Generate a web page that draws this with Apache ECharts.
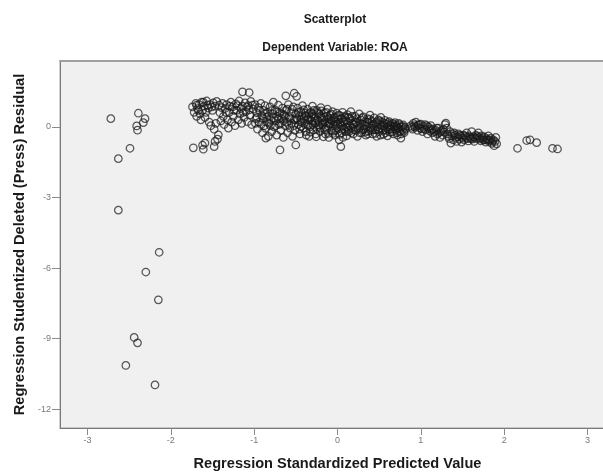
<!DOCTYPE html>
<html>
<head>
<meta charset="utf-8">
<script src="https://cdn.jsdelivr.net/npm/echarts@6/dist/echarts.min.js"></script>
<style>html,body{margin:0;padding:0;background:#fff}#c{width:603px;height:472px}</style>
</head>
<body>
<div id="c"></div>
<script>
const xTicks = [-3, -2, -1, 0, 1, 2, 3];
const yTicks = [0, -3, -6, -9, -12];

const leftOutliers = [[-2.72,0.35],[-2.39,0.58],[-2.31,0.35],[-2.33,0.18],[-2.41,0.04],[-2.40,-0.14],[-2.49,-0.91],[-2.63,-1.35],[-2.63,-3.54],[-2.14,-5.33],[-2.30,-6.17],[-2.15,-7.35],[-2.44,-8.95],[-2.40,-9.18],[-2.54,-10.14],[-2.19,-10.97]];

const cloudA = [[-1.74,0.85],[-1.72,0.62],[-1.70,1.00],[-1.69,0.45],[-1.68,0.78],[-1.66,0.95],[-1.65,0.55],[-1.64,0.30],[-1.63,1.05],[-1.62,0.70],[-1.60,0.88],[-1.59,0.40],[-1.58,0.62],[-1.57,1.10],[-1.55,0.80],[-1.54,0.20],[-1.53,0.95],[-1.52,0.05],[-1.50,0.70],[-1.49,1.02],[-1.48,-0.10],[-1.47,0.88],[-1.46,0.15],[-1.45,1.08],[-1.73,-0.89],[-1.61,-0.95],[-1.59,-0.69],[-1.48,-0.84],[-1.47,-0.62],[-1.43,-0.34],[-1.62,-0.78],[-1.44,-0.52]];

const cloudB = [[-1.42,0.92],[-1.41,0.60],[-1.40,0.25],[-1.38,1.00],[-1.37,0.45],[-1.36,0.10],[-1.35,0.78],[-1.33,0.95],[-1.32,0.30],[-1.31,-0.05],[-1.30,0.62],[-1.28,1.05],[-1.27,0.20],[-1.26,0.85],[-1.25,0.45],[-1.23,0.05],[-1.22,0.98],[-1.21,0.70],[-1.19,0.30],[-1.18,1.10],[-1.17,0.55],[-1.15,0.15],[-1.14,0.88],[-1.12,0.40],[-1.11,1.02],[-1.10,0.65],[-1.08,0.22],[-1.07,0.90],[-1.05,0.50],[-1.04,1.08],[-1.03,0.10],[-1.01,0.75],[-1.14,1.49],[-1.06,1.46]];

const cloudB2 = [[-1.69,0.92],[-1.67,0.70],[-1.61,1.05],[-1.56,0.92],[-1.51,0.85],[-1.39,0.82],[-1.34,0.62],[-1.29,0.88],[-1.24,0.70],[-1.20,0.90],[-1.16,0.78],[-1.13,0.62],[-1.09,0.85],[-1.06,0.72],[-1.02,0.92]];

const cloudC = [[-0.99,0.95],[-0.98,0.35],[-0.97,0.60],[-0.96,-0.10],[-0.95,0.82],[-0.94,0.20],[-0.92,1.00],[-0.91,0.48],[-0.90,-0.25],[-0.89,0.70],[-0.88,0.05],[-0.87,0.90],[-0.86,-0.06],[-0.85,0.40],[-0.84,0.62],[-0.83,-0.40],[-0.82,0.15],[-0.81,0.85],[-0.80,0.30],[-0.79,-0.20],[-0.78,0.55],[-0.77,1.05],[-0.76,0.00],[-0.75,0.72],[-0.74,0.25],[-0.73,-0.35],[-0.72,0.45],[-0.71,0.92],[-0.70,0.10],[-0.69,-0.98],[-0.69,0.60],[-0.68,-0.15],[-0.67,0.35],[-0.66,0.80],[-0.65,-0.45],[-0.64,0.50],[-0.63,0.05],[-0.62,1.32],[-0.62,0.70],[-0.61,0.20],[-0.60,-0.25],[-0.59,0.95],[-0.58,0.40],[-0.57,-0.05],[-0.56,0.62],[-0.55,0.15],[-0.54,-0.40],[-0.53,0.85],[-0.52,1.43],[-0.52,0.30],[-0.51,-0.15],[-0.50,0.55],[-0.50,-0.77],[-0.49,1.30],[-0.86,-0.48]];

const cloudC2 = [[-0.985,0.15],[-0.965,0.40],[-0.935,0.70],[-0.915,0.10],[-0.895,0.35],[-0.875,0.55],[-0.845,0.20],[-0.825,0.45],[-0.805,0.05],[-0.785,0.70],[-0.765,0.38],[-0.745,0.05],[-0.725,0.65],[-0.705,0.35],[-0.685,0.15],[-0.665,0.55],[-0.645,0.25],[-0.625,0.45],[-0.605,0.75],[-0.585,0.10],[-0.565,0.35],[-0.545,0.75],[-0.525,0.05],[-0.505,0.30]];

const cloudD = [[-0.48,0.80],[-0.47,0.10],[-0.46,0.45],[-0.45,-0.30],[-0.44,0.65],[-0.43,0.20],[-0.42,0.90],[-0.41,-0.05],[-0.40,0.35],[-0.39,0.58],[-0.38,-0.20],[-0.37,0.12],[-0.36,0.75],[-0.35,0.40],[-0.34,-0.40],[-0.33,0.00],[-0.32,0.62],[-0.31,0.25],[-0.30,0.88],[-0.29,-0.12],[-0.28,0.48],[-0.27,0.15],[-0.26,-0.30],[-0.25,0.70],[-0.24,0.30],[-0.23,0.02],[-0.22,0.55],[-0.21,-0.20],[-0.20,0.82],[-0.19,0.38],[-0.18,0.08],[-0.17,-0.42],[-0.16,0.60],[-0.15,0.22],[-0.14,-0.05],[-0.13,0.45],[-0.12,0.75],[-0.11,-0.28],[-0.10,0.12],[-0.09,0.50],[-0.08,0.30],[-0.07,-0.15],[-0.06,0.65],[-0.05,0.05],[-0.04,0.40],[-0.03,-0.35],[-0.02,0.20],[-0.01,0.58],[0.00,-0.05],[0.01,0.32],[0.02,-0.55],[0.03,0.48],[0.04,-0.84],[0.04,0.10],[0.05,-0.25],[0.06,0.62],[0.07,0.25],[0.08,-0.10],[0.09,0.40],[0.10,0.00],[0.11,-0.38],[0.12,0.52],[0.13,0.18],[0.14,-0.20],[0.15,0.35],[0.16,0.65],[0.17,-0.05],[0.18,0.28],[0.19,-0.30],[0.20,0.10],[-0.44,0.28],[-0.38,0.48],[-0.33,0.30],[-0.27,0.38],[-0.22,0.20],[-0.18,0.28],[-0.12,0.18],[-0.07,0.25],[-0.02,0.05],[0.03,0.15],[0.08,0.20],[-0.35,0.05],[-0.25,-0.08],[-0.15,-0.12],[-0.05,-0.18],[0.05,-0.10],[0.12,-0.02],[-0.30,0.55],[-0.20,0.45],[-0.10,0.35]];

const cloudD2 = [[-0.485,0.35],[-0.465,0.62],[-0.455,-0.10],[-0.435,0.02],[-0.425,0.48],[-0.405,0.72],[-0.395,0.15],[-0.375,-0.35],[-0.365,0.30],[-0.345,0.55],[-0.325,-0.22],[-0.315,0.42],[-0.295,0.10],[-0.285,0.70],[-0.265,0.25],[-0.255,-0.42],[-0.235,0.60],[-0.225,0.08],[-0.205,-0.05],[-0.195,0.68],[-0.175,0.15],[-0.165,0.42],[-0.145,-0.30],[-0.135,0.62],[-0.115,0.05],[-0.105,-0.45],[-0.085,0.15],[-0.075,0.55],[-0.055,-0.28],[-0.045,0.22],[-0.025,0.42],[-0.015,-0.15],[0.005,0.12],[0.015,0.50],[0.025,-0.32],[0.045,0.35],[0.055,0.02],[0.065,-0.45],[0.085,0.45],[0.095,-0.20],[0.105,0.25],[0.125,-0.15],[0.135,0.40],[0.145,0.05],[0.165,-0.25],[0.175,0.45],[0.185,0.12],[0.195,-0.12]];

const cloudE = [[0.21,0.45],[0.22,-0.15],[0.23,0.20],[0.24,-0.40],[0.25,0.05],[0.26,0.55],[0.27,-0.05],[0.28,0.30],[0.29,-0.25],[0.30,0.12],[0.31,0.42],[0.32,-0.10],[0.33,0.22],[0.34,-0.35],[0.35,0.02],[0.36,0.35],[0.37,-0.18],[0.38,0.15],[0.39,0.50],[0.40,-0.05],[0.41,0.25],[0.42,-0.30],[0.43,0.08],[0.44,0.38],[0.45,-0.12],[0.46,0.18],[0.47,-0.40],[0.48,0.00],[0.49,0.30],[0.50,-0.20],[0.51,0.10],[0.52,0.40],[0.53,-0.08],[0.54,0.20],[0.55,-0.32],[0.56,0.05],[0.57,0.28],[0.58,-0.15],[0.59,0.12],[0.60,-0.38],[0.61,0.00],[0.62,0.22],[0.63,-0.22],[0.64,0.08],[0.65,-0.10],[0.66,0.15],[0.67,-0.30],[0.68,0.02],[0.69,0.18],[0.70,-0.15],[0.71,0.05],[0.72,-0.35],[0.73,-0.05],[0.74,0.10],[0.75,-0.20],[0.76,-0.48],[0.77,0.00],[0.78,-0.12],[0.79,0.08],[0.80,-0.25],[0.81,-0.02]];

const cloudE2 = [[0.215,0.20],[0.235,0.35],[0.245,-0.05],[0.265,-0.25],[0.275,0.15],[0.295,0.38],[0.305,-0.12],[0.325,0.05],[0.335,-0.22],[0.355,0.20],[0.365,-0.30],[0.385,0.32],[0.395,-0.15],[0.415,0.05],[0.425,-0.12],[0.445,0.12],[0.455,-0.28],[0.475,0.22],[0.485,-0.12],[0.505,0.25],[0.515,-0.35],[0.535,0.05],[0.545,-0.15],[0.565,0.15],[0.575,-0.25],[0.595,-0.05],[0.605,0.18],[0.625,-0.10],[0.635,0.05],[0.655,-0.22],[0.675,0.10],[0.685,-0.08],[0.705,0.00],[0.715,-0.25],[0.735,0.15],[0.745,-0.10],[0.765,-0.30],[0.785,0.02],[0.795,-0.18],[0.815,-0.10]];

const cloudF = [[0.88,0.05],[0.90,-0.10],[0.91,0.15],[0.93,-0.02],[0.94,0.20],[0.96,-0.15],[0.97,0.08],[0.99,-0.05],[1.00,0.12],[1.02,-0.20],[1.03,0.02],[1.05,0.10],[1.06,-0.12],[1.08,-0.30],[1.09,0.00],[1.11,-0.18],[1.12,0.05],[1.14,-0.25],[1.15,-0.08],[1.17,-0.40],[1.18,-0.15],[1.20,-0.30],[1.21,-0.05],[1.23,-0.45],[1.24,-0.20],[1.26,-0.35],[1.27,-0.10],[1.29,0.10],[1.30,0.16],[1.31,-0.05],[1.32,-0.30],[1.34,-0.50],[1.35,-0.20],[1.36,-0.69],[1.37,-0.38],[1.39,-0.55],[1.40,-0.25],[1.42,-0.45],[1.43,-0.62],[1.45,-0.30],[1.46,-0.52],[1.48,-0.40],[1.49,-0.65],[1.51,-0.35],[1.52,-0.55],[1.54,-0.45],[1.55,-0.25],[1.57,-0.60],[1.58,-0.38],[1.60,-0.50],[1.61,-0.20],[1.63,-0.42],[1.64,-0.62],[1.66,-0.35],[1.67,-0.50],[1.69,-0.25],[1.70,-0.45],[1.72,-0.60],[1.73,-0.38],[1.75,-0.55],[1.76,-0.42],[1.78,-0.65],[1.79,-0.50],[1.81,-0.38],[1.82,-0.62],[1.84,-0.48],[1.85,-0.70],[1.87,-0.55],[1.88,-0.80],[1.89,-0.62],[1.90,-0.45],[1.91,-0.72]];

const cloudF2 = [[0.89,-0.02],[0.92,0.05],[0.95,0.02],[0.98,0.10],[1.01,-0.08],[1.04,-0.10],[1.07,0.05],[1.10,-0.08],[1.13,-0.12],[1.16,-0.20],[1.19,-0.05],[1.22,-0.25],[1.25,-0.15],[1.28,-0.22],[1.33,-0.40],[1.38,-0.30],[1.41,-0.35],[1.44,-0.42],[1.47,-0.35],[1.50,-0.48],[1.53,-0.38],[1.56,-0.50],[1.59,-0.45],[1.62,-0.52],[1.65,-0.45],[1.68,-0.40],[1.71,-0.52],[1.74,-0.48],[1.77,-0.55],[1.80,-0.55],[1.83,-0.55],[1.86,-0.62]];

const rightTail = [[2.16,-0.91],[2.27,-0.58],[2.31,-0.55],[2.39,-0.67],[2.58,-0.91],[2.64,-0.94]];

const allPoints = [].concat(leftOutliers, cloudA, cloudB, cloudB2, cloudC, cloudC2, cloudD, cloudD2, cloudE, cloudE2, cloudF, cloudF2, rightTail);

const chart = echarts.init(document.getElementById('c'), null, {renderer: 'canvas'});
const FONT = 'Liberation Sans, Arial, sans-serif';
const axisGray = '#8a8a8a';
chart.setOption({
  animation: false,
  backgroundColor: '#ffffff',
  grid: {
    left: 60, top: 61, width: 555, height: 367,
    containLabel: false, outerBoundsMode: 'none',
    show: true, backgroundColor: '#f0f0f0', borderColor: '#a0a0a0', borderWidth: 1
  },
  graphic: [
    {type: 'text', style: {text: 'Scatterplot', x: 335, y: 20, textAlign: 'center', textVerticalAlign: 'middle', font: 'bold 12px ' + FONT, fill: '#1a1a1a'}},
    {type: 'text', style: {text: 'Dependent Variable: ROA', x: 335, y: 48, textAlign: 'center', textVerticalAlign: 'middle', font: 'bold 12px ' + FONT, fill: '#1a1a1a'}}
  ],
  xAxis: [{
    type: 'value', min: -3.33, max: 3.33, position: 'bottom',
    splitLine: {show: false},
    axisLine: {show: true, onZero: false, lineStyle: {color: '#7a7a7a', width: 1}},
    axisTick: {show: true, length: 7, lineStyle: {color: axisGray}, customValues: xTicks},
    axisLabel: {color: '#777', fontSize: 9, fontFamily: FONT, margin: 8, customValues: xTicks, formatter: v => String(v)},
    name: 'Regression Standardized Predicted Value', nameLocation: 'middle', nameGap: 28,
    nameTextStyle: {fontFamily: FONT, fontWeight: 'bold', fontSize: 14.6, color: '#1a1a1a'}
  }, {
    type: 'value', min: -3.33, max: 3.33, position: 'top',
    splitLine: {show: false}, axisTick: {show: false}, axisLabel: {show: false},
    axisLine: {show: true, onZero: false, lineStyle: {color: '#a0a0a0', width: 2}}
  }],
  yAxis: {
    type: 'value', min: -12.8, max: 2.8,
    splitLine: {show: false},
    axisLine: {show: true, onZero: false, lineStyle: {color: '#7a7a7a', width: 1}},
    axisTick: {show: true, length: 8, lineStyle: {color: axisGray}, customValues: yTicks},
    axisLabel: {color: '#777', fontSize: 9, fontFamily: FONT, margin: 9, customValues: yTicks, formatter: v => String(v)},
    name: 'Regression Studentized Deleted (Press) Residual', nameLocation: 'middle', nameGap: 33,
    nameTextStyle: {fontFamily: FONT, fontWeight: 'bold', fontSize: 14.6, color: '#1a1a1a'}
  },
  series: [{
    type: 'scatter', xAxisIndex: 0,
    data: allPoints,
    symbol: 'circle', symbolSize: 7.5,
    itemStyle: {color: 'rgba(0,0,0,0)', borderColor: 'rgba(25,25,25,0.9)', borderWidth: 1.25}
  }]
});
</script>
</body>
</html>
